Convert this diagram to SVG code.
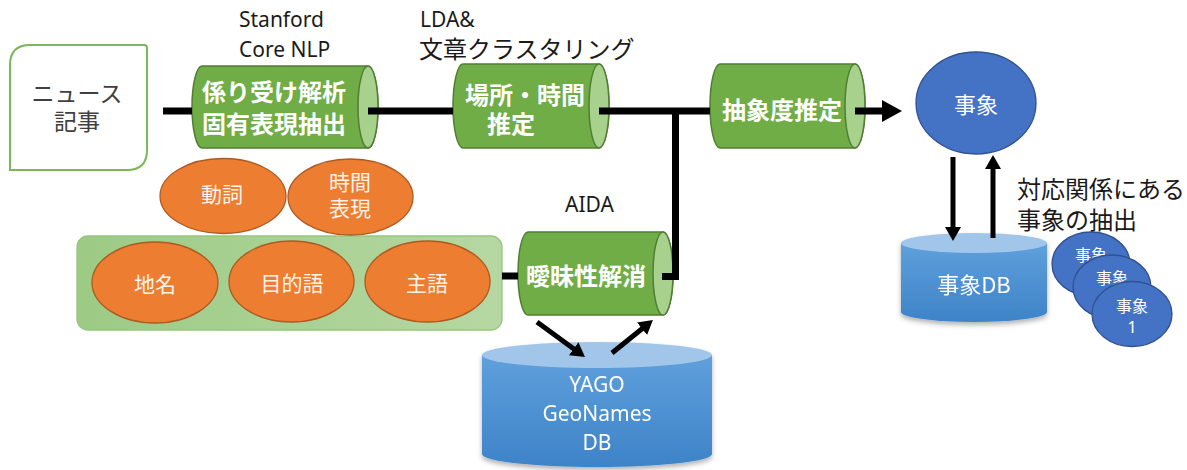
<svg xmlns="http://www.w3.org/2000/svg" width="1187" height="470" viewBox="0 0 1187 470">
<defs>
<style>
.jp{font-family:"Noto Sans CJK JP","Noto Sans",sans-serif;}
.lat{font-family:"Noto Sans","Noto Sans CJK JP",sans-serif;}
.cylbody{fill:#70AD47;stroke:#507E32;stroke-width:1.5;}
.cylcap{fill:#A9D18E;stroke:#507E32;stroke-width:1.5;}
.cyltxt{fill:#FFFFFF;font-size:24px;font-weight:700;}
.orange{fill:#ED7D31;stroke:#AE5A21;stroke-width:1.3;}
.otxt{fill:#FFF3EA;font-size:21px;}
.blue{fill:#4472C4;stroke:#2F528F;stroke-width:1.3;}
.wtxt{fill:#FFFFFF;}
.lbl{fill:#1A1A1A;font-size:21px;}
.lblj{fill:#1A1A1A;font-size:24px;}
.conn{stroke:#000;stroke-width:7;fill:none;}
.conn2{stroke:#000;stroke-width:5;fill:none;}
</style>
<linearGradient id="dbBody" x1="0" y1="0" x2="0" y2="1">
<stop offset="0" stop-color="#5FA0DC"/>
<stop offset="1" stop-color="#3E83C8"/>
</linearGradient>
<linearGradient id="grnBg" x1="0" y1="0" x2="1" y2="0">
<stop offset="0" stop-color="#9CCB85"/>
<stop offset="1" stop-color="#B6D7A2"/>
</linearGradient>
<filter id="shadow" x="-10%" y="-10%" width="120%" height="130%">
<feDropShadow dx="0" dy="3" stdDeviation="2.5" flood-color="#000" flood-opacity="0.3"/>
</filter>
<marker id="bigHead" markerUnits="userSpaceOnUse" markerWidth="20" markerHeight="22" viewBox="0 0 20 22" refX="2" refY="11" orient="auto">
<path d="M0,0 L20,11 L0,22 z" fill="#000"/>
</marker>
<marker id="smHead" markerUnits="userSpaceOnUse" markerWidth="14" markerHeight="16" viewBox="0 0 14 16" refX="2" refY="8" orient="auto">
<path d="M0,0 L14,8 L0,16 z" fill="#000"/>
</marker>
</defs>
<rect width="1187" height="470" fill="#FFFFFF"/>

<!-- background group for noun roles -->
<g id="nounGroup">
<rect x="77" y="236" width="425" height="94" rx="11" fill="url(#grnBg)" stroke="#97C67E" stroke-width="1.3"/>
</g>

<g id="news">
<path d="M30,45 H144 Q147,45 147,48 V150 Q147,170 127,170 H10 V65 Q10,45 30,45 z" fill="#FFFFFF" stroke="#7CB55A" stroke-width="2"/>
<text class="jp" x="77" y="92" font-size="23" fill="#404040" text-anchor="middle" dominant-baseline="central">ニュース</text>
<text class="jp" x="77" y="120" font-size="23" fill="#404040" text-anchor="middle" dominant-baseline="central">記事</text>
</g>

<g id="parse">
<path class="cylbody" d="M202,66 H368 A10,41 0 0 1 368,148 H202 A10,41 0 0 1 202,66 z"/>
<ellipse class="cylcap" cx="368" cy="107" rx="10" ry="41"/>
<text class="jp cyltxt" x="274" y="90" text-anchor="middle" dominant-baseline="central">係り受け解析</text>
<text class="jp cyltxt" x="274" y="122" text-anchor="middle" dominant-baseline="central">固有表現抽出</text>
</g>
<g id="parseLabel">
<text class="lat lbl" x="239" y="27">Stanford</text>
<text class="lat lbl" x="239" y="57">Core NLP</text>
</g>

<g id="placeTime">
<path class="cylbody" d="M463,64 H599 A10,42 0 0 1 599,148 H463 A10,42 0 0 1 463,64 z"/>
<ellipse class="cylcap" cx="599" cy="106" rx="10" ry="42"/>
<text class="jp cyltxt" x="525" y="93" text-anchor="middle" dominant-baseline="central">場所・時間</text>
<text class="jp cyltxt" x="511" y="122" text-anchor="middle" dominant-baseline="central">推定</text>
</g>
<g id="placeTimeLabel">
<text class="lat lbl" x="420" y="27">LDA&amp;</text>
<text class="jp lblj" x="419" y="47" dominant-baseline="central">文章クラスタリング</text>
</g>

<g id="abstract">
<path class="cylbody" d="M720,64 H855 A10,42 0 0 1 855,148 H720 A10,42 0 0 1 720,64 z"/>
<ellipse class="cylcap" cx="855" cy="106" rx="10" ry="42"/>
<text class="jp cyltxt" x="782" y="108" text-anchor="middle" dominant-baseline="central">抽象度推定</text>
</g>

<g id="disamb">
<path class="cylbody" d="M528,232 H663 A10,41.5 0 0 1 663,315 H528 A10,41.5 0 0 1 528,232 z"/>
<ellipse class="cylcap" cx="663" cy="273.5" rx="10" ry="41.5"/>
<text class="jp cyltxt" x="586" y="274" text-anchor="middle" dominant-baseline="central">曖昧性解消</text>
</g>
<g id="disambLabel">
<text class="lat lbl" x="565" y="212">AIDA</text>
</g>

<g id="verb">
<ellipse class="orange" cx="223" cy="196" rx="63" ry="37.5"/>
<text class="jp otxt" x="222" y="193" text-anchor="middle" dominant-baseline="central">動詞</text>
</g>
<g id="timeExpr">
<ellipse class="orange" cx="350.5" cy="197" rx="62.5" ry="38"/>
<text class="jp otxt" x="350" y="181" text-anchor="middle" dominant-baseline="central">時間</text>
<text class="jp otxt" x="350" y="207" text-anchor="middle" dominant-baseline="central">表現</text>
</g>
<g id="placeName">
<ellipse class="orange" cx="155" cy="282.5" rx="63" ry="40.5"/>
<text class="jp otxt" x="155" y="283" text-anchor="middle" dominant-baseline="central">地名</text>
</g>
<g id="object">
<ellipse class="orange" cx="291.5" cy="281.5" rx="62.5" ry="40.5"/>
<text class="jp otxt" x="292" y="282" text-anchor="middle" dominant-baseline="central">目的語</text>
</g>
<g id="subject">
<ellipse class="orange" cx="427.5" cy="281.5" rx="62.5" ry="40.5"/>
<text class="jp otxt" x="427" y="282" text-anchor="middle" dominant-baseline="central">主語</text>
</g>

<g id="yago" filter="url(#shadow)">
<path d="M482,355 V454 A115,13 0 0 0 712,454 V355 z" fill="url(#dbBody)"/>
<ellipse cx="597" cy="355" rx="115" ry="13" fill="#A2C6E9"/>
<text class="lat wtxt" x="597" y="392" font-size="21" text-anchor="middle">YAGO</text>
<text class="lat wtxt" x="597" y="421" font-size="21" text-anchor="middle">GeoNames</text>
<text class="lat wtxt" x="597" y="450" font-size="21" text-anchor="middle">DB</text>
</g>

<g id="event">
<ellipse class="blue" cx="976" cy="103" rx="60" ry="51"/>
<text class="jp wtxt" x="976" y="103" font-size="22" text-anchor="middle" dominant-baseline="central">事象</text>
</g>

<g id="eventDB" filter="url(#shadow)">
<path d="M901,243 V312 A73,10 0 0 0 1047,312 V243 z" fill="url(#dbBody)"/>
<ellipse cx="974" cy="243" rx="73" ry="10" fill="#A2C6E9"/>
<text class="jp wtxt" x="974" y="283" font-size="22" text-anchor="middle" dominant-baseline="central">事象DB</text>
</g>

<g id="eventA">
<ellipse class="blue" cx="1091" cy="264" rx="39" ry="32"/>
<text class="jp wtxt" x="1091" y="254" font-size="16" text-anchor="middle" dominant-baseline="central">事象</text>
</g>
<g id="eventB">
<ellipse class="blue" cx="1112" cy="287" rx="39" ry="32"/>
<text class="jp wtxt" x="1112" y="277" font-size="16" text-anchor="middle" dominant-baseline="central">事象</text>
</g>
<g id="event1">
<ellipse class="blue" cx="1132" cy="314" rx="40" ry="32.5"/>
<text class="jp wtxt" x="1132" y="305" font-size="16" text-anchor="middle" dominant-baseline="central">事象</text>
<text class="lat wtxt" x="1132" y="327" font-size="16" text-anchor="middle" dominant-baseline="central">1</text>
</g>

<g id="matchLabel">
<text class="jp lblj" x="1017" y="187" dominant-baseline="central">対応関係にある</text>
<text class="jp lblj" x="1017" y="218" dominant-baseline="central">事象の抽出</text>
</g>

<g id="connectors">
<line class="conn" x1="163" y1="111" x2="192" y2="111"/>
<line class="conn" x1="368" y1="111" x2="453" y2="111"/>
<line class="conn" x1="599" y1="111" x2="710" y2="111"/>
<path class="conn" d="M502,276 H518"/>
<path class="conn" d="M662,276.5 H675.5 V111"/>
<path class="conn" d="M855,111 H884" marker-end="url(#bigHead)"/>
<path class="conn2" d="M953,157 V229" marker-end="url(#smHead)"/>
<path class="conn2" d="M993,238 V167" marker-end="url(#smHead)"/>
<path class="conn2" d="M537,322 L575.3,349.9" marker-end="url(#smHead)"/>
<path class="conn2" d="M612,353 L643.6,327.5" marker-end="url(#smHead)"/>
</g>
</svg>
